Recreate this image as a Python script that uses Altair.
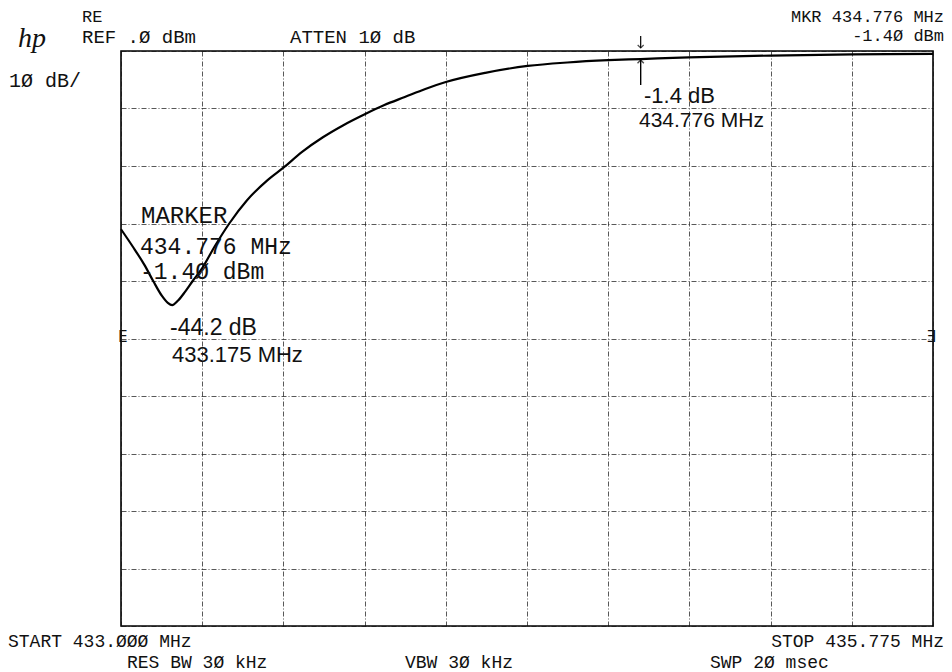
import altair as alt
import pandas as pd

# ---- trace data ----
freq_mhz = [433.000, 433.040, 433.080, 433.110, 433.140, 433.160, 433.175, 433.195,
            433.220, 433.245, 433.277, 433.320, 433.370, 433.430, 433.500, 433.555,
            433.620, 433.690, 433.760, 433.833, 433.900, 433.970, 434.040, 434.110,
            434.245, 434.390, 434.525, 434.665, 434.776, 434.940, 435.220, 435.500,
            435.775]
level_dbm = [-31.0, -34.0, -37.2, -40.0, -42.6, -43.8, -44.2, -43.4,
             -41.8, -40.0, -37.8, -34.0, -30.0, -26.0, -22.5, -20.3,
             -17.5, -15.0, -12.9, -11.0, -9.4, -8.0, -6.6, -5.4,
             -3.8, -2.6, -2.0, -1.6, -1.4, -1.1, -0.8, -0.6,
             -0.5]

x_grid = [433.0, 433.2775, 433.555, 433.8325, 434.11, 434.3875, 434.665,
          434.9425, 435.22, 435.4975, 435.775]
y_grid = [0, -10, -20, -30, -40, -50, -60, -70, -80, -90, -100]

marker_freq = [434.776]
marker_level = [-1.4]

# printed (plotter) annotations: text, x(px rel. plot), baseline y(px rel. plot), size
printed_left = ["RE", "REF .Ø dBm", "1Ø dB/", "ATTEN 1Ø dB", "MARKER", "434.776 MHz",
                "-1.4Ø dBm", "START 433.ØØØ MHz", "RES BW 3Ø kHz", "VBW 3Ø kHz", "SWP 2Ø msec"]
printed_left_x = [-39, -39, -112, 169, 20, 19, 19, -113, 6, 284, 589]
printed_left_y = [-29, -8, 36, -8, 172, 203, 228, 596, 617, 617, 617]
printed_left_fs = [17, 19, 20, 19, 24, 23, 23, 18, 18, 18, 18]

printed_right = ["MKR 434.776 MHz", "-1.4Ø dBm", "STOP 435.775 MHz"]
printed_right_x = [823, 823, 823]
printed_right_y = [-29, -10, 596]
printed_right_fs = [17, 17, 18]

hand_text = ["-1.4 dB", "434.776 MHz", "-44.2 dB", "433.175 MHz"]
hand_x = [523, 518, 49, 51]
hand_y = [52, 76, 284, 311]
hand_fs = [22, 21, 23, 22]

W, H = 812, 575
MONO = "Liberation Mono"

curve = pd.DataFrame({"freq": freq_mhz, "level": level_dbm})

xscale = alt.Scale(domain=[433.0, 435.775], nice=False, zero=False)
yscale = alt.Scale(domain=[-100, 0], nice=False, zero=False)

grid_axis = dict(grid=True, labels=False, ticks=False, domain=False, title=None,
                 gridDash=[5, 2, 1, 2], gridColor="#111", gridWidth=1, gridOpacity=0.7)

line = alt.Chart(curve).mark_line(color="black", strokeWidth=2.2,
                                  interpolate="monotone").encode(
    x=alt.X("freq:Q", scale=xscale, axis=alt.Axis(values=x_grid, **grid_axis)),
    y=alt.Y("level:Q", scale=yscale, axis=alt.Axis(values=y_grid, **grid_axis)),
)

mk = pd.DataFrame({"freq": marker_freq, "level": marker_level})
# printed down-arrow above the graticule
arrow_top = alt.Chart(mk).mark_rule(color="black", strokeWidth=1.2).encode(
    x=alt.X("freq:Q", scale=xscale), y=alt.value(-15), y2=alt.value(-3))
arrow_top_head = alt.Chart(mk).mark_point(
    shape="M-1,-1L0,0L1,-1", size=36, color="black", strokeWidth=1.2, filled=False
).encode(x=alt.X("freq:Q", scale=xscale), y=alt.value(-3))
# handwritten up-arrow below the marker
arrow_hand = alt.Chart(mk).mark_rule(color="black", strokeWidth=1.4).encode(
    x=alt.X("freq:Q", scale=xscale), y=alt.value(9), y2=alt.value(34))
arrow_hand_head = alt.Chart(mk).mark_point(
    shape="M-1,1L0,0L1,1", size=40, color="black", strokeWidth=1.4, filled=False
).encode(x=alt.X("freq:Q", scale=xscale), y=alt.value(9))


def text_layer(s, x, y, fs, align="left", font=MONO, style="normal", weight="normal"):
    return alt.Chart(pd.DataFrame({"t": [s]})).mark_text(
        align=align, baseline="alphabetic", font=font, fontSize=fs,
        fontStyle=style, fontWeight=weight, color="#111"
    ).encode(text="t:N", x=alt.value(x), y=alt.value(y))


layers = [line, arrow_top, arrow_top_head, arrow_hand, arrow_hand_head]
for s, x, y, fs in zip(printed_left, printed_left_x, printed_left_y, printed_left_fs):
    layers.append(text_layer(s, x, y, fs))
for s, x, y, fs in zip(printed_right, printed_right_x, printed_right_y, printed_right_fs):
    layers.append(text_layer(s, x, y, fs, align="right"))
for s, x, y, fs in zip(hand_text, hand_x, hand_y, hand_fs):
    layers.append(text_layer(s, x, y, fs, font="Liberation Sans"))

# hp logo
layers.append(text_layer("hp", -103, -4, 28, font="Liberation Serif", style="italic"))
# display-line markers on the graticule edges (-50 dB)
layers.append(text_layer("E", -3, 291, 16, font="DejaVu Sans Mono"))
layers.append(text_layer("Ǝ", W + 3, 291, 16, align="right", font="DejaVu Sans Mono"))

chart = alt.layer(*layers).properties(
    width=W, height=H,
    autosize="none",
    padding={"left": 113, "top": 43, "right": 11, "bottom": 46},
    background="white",
).configure_view(stroke="black", strokeWidth=1.6)

chart.save("out.html", embed_options={"renderer": "svg", "actions": False})
